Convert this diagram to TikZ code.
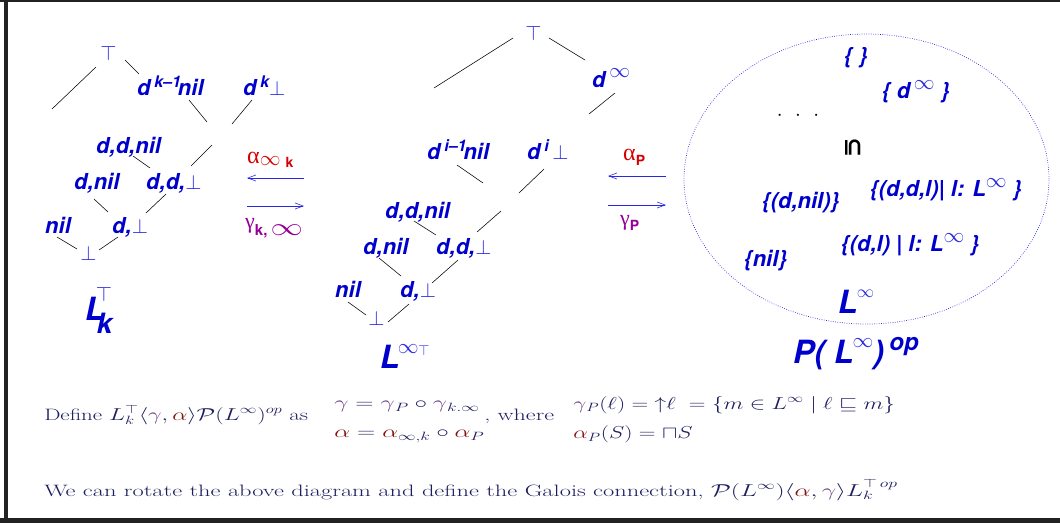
\documentclass[tikz,border=0pt]{standalone}
\usepackage{fontspec}
\usetikzlibrary{arrows.meta,shapes.geometric}
\newfontfamily\hv{TeX Gyre Heros}
\newfontfamily\tms{Liberation Serif}
\newfontfamily\djv{DejaVu Sans}
\definecolor{lblue}{RGB}{0,0,205}
\definecolor{sblue}{RGB}{40,40,225}
\definecolor{ared}{RGB}{215,0,0}
\definecolor{gpur}{RGB}{150,0,150}
\definecolor{navy}{RGB}{30,30,95}
\definecolor{gcol}{RGB}{100,50,130}
\definecolor{acol}{RGB}{130,20,20}
\definecolor{framec}{RGB}{34,34,34}
\newcommand\lblf{\hv\bfseries\itshape\fontsize{22}{22}\selectfont}
\newcommand\supx[1]{\raisebox{8pt}{\fontsize{16}{16}\selectfont #1}}
\newcommand\infx[1][9pt]{\raisebox{#1}{\textcolor{sblue}{$\infty$}}}
\newcommand\cg{\textcolor{gcol}{\gamma}}
\newcommand\ca{\textcolor{acol}{\alpha}}
\newcommand\sbot{\textcolor{sblue}{$\bot$}}
\renewcommand\arraystretch{1.33}
\tikzset{
 lab/.style={text=lblue, font=\lblf, inner sep=0pt, anchor=base west},
 big/.style={text=lblue, font=\hv\bfseries\itshape\fontsize{32}{32}\selectfont, inner sep=0pt, anchor=base west},
 sym/.style={text=sblue, inner sep=0pt, font=\fontsize{22}{22}\selectfont},
 lnk/.style={black, line width=0.55pt},
 garrow/.style={sblue, line width=0.6pt, -{Straight Barb[length=8pt,width=6pt]}},
 txt/.style={text=navy, inner sep=0pt, anchor=base west, font=\fontsize{16.5}{22}\selectfont, xscale=1.46},
 glab/.style={inner sep=0pt, anchor=base west},
}
\begin{document}
\begin{tikzpicture}[x=1pt,y=-1pt]
\useasboundingbox (0,0) rectangle (1060,523);
\fill[framec] (0,0) rectangle (1060,1.5);
\fill[framec] (4,0) rectangle (7.5,523);
\fill[framec] (0,518) rectangle (1060,523);

% ---------- left lattice L_k^T
\node[sym] (ltop) at (108.5,53.5) {$\top$};
\node[lab] (ldk1) at (137,95) {d\,\supx{k–1}\kern-3pt nil};
\node[lab] (ldkb) at (243,95) {d\,\supx{k}\sbot};
\node[lab] (lddnil) at (96,153) {d,d,nil};
\node[lab] (ldnil) at (74,189) {d,nil};
\node[lab] (lddb) at (146,189) {d,d,\sbot};
\node[lab] (lnil) at (45,233) {nil};
\node[lab] (ldb) at (112,233) {d,\sbot};
\node[sym] (lbot) at (88.5,253.5) {$\bot$};
\node[big] (lk) at (85,320) {L\kern-9pt\rlap{\raisebox{19pt}{\fontsize{20}{20}\selectfont\textcolor{sblue}{$\top$}}}\kern1pt\raisebox{-13pt}{\fontsize{28}{28}\selectfont k}};

\draw[lnk] (96,67) coordinate (l1a) -- (52,109) coordinate (l1b);
\draw[lnk] (125,60) coordinate (l2a) -- (139,74) coordinate (l2b);
\draw[lnk] (189,100) coordinate (l3a) -- (207,122) coordinate (l3b);
\draw[lnk] (252,100) coordinate (l4a) -- (232,124) coordinate (l4b);
\draw[lnk] (212,145) coordinate (l5a) -- (191,166) coordinate (l5b);
\draw[lnk] (133,156) coordinate (l6a) -- (150,168) coordinate (l6b);
\draw[lnk] (94,199) coordinate (l7a) -- (108,212) coordinate (l7b);
\draw[lnk] (166,194) coordinate (l8a) -- (146,213) coordinate (l8b);
\draw[lnk] (57,237) coordinate (l9a) -- (77,249) coordinate (l9b);
\draw[lnk] (118,237) coordinate (l10a) -- (99,250) coordinate (l10b);

% ---------- middle lattice L^inf T
\node[sym] (mtop) at (533.5,33.5) {$\top$};
\node[lab] (mdinf) at (592,87) {d\,\infx[10pt]};
\node[lab] (mdi1) at (427,159) {d\,\supx{i–1}\kern-3pt nil};
\node[lab] (mdib) at (527,159) {d\,\supx{i}\,\sbot};
\node[lab] (mddnil) at (385,218) {d,d,nil};
\node[lab] (mdnil) at (363,254) {d,nil};
\node[lab] (mddb) at (436,254) {d,d,\sbot};
\node[lab] (mnil) at (335,297) {nil};
\node[lab] (mdb) at (400,297) {d,\sbot};
\node[sym] (mbot) at (376.5,318.5) {$\bot$};
\node[big] (minf) at (380,368) {L\kern-2pt\raisebox{15pt}{\fontsize{20}{20}\selectfont\textcolor{sblue}{$\infty$}}\raisebox{13pt}{\fontsize{15}{15}\selectfont\textcolor{sblue}{$\top$}}};

\draw[lnk] (513,38) coordinate (m1a) -- (434,88) coordinate (m1b);
\draw[lnk] (549,38) coordinate (m2a) -- (585,60) coordinate (m2b);
\draw[lnk] (615,93) coordinate (m3a) -- (589,114) coordinate (m3b);
\draw[lnk] (457,165) coordinate (m4a) -- (483,183) coordinate (m4b);
\draw[lnk] (544,169) coordinate (m5a) -- (519,193) coordinate (m5b);
\draw[lnk] (501,211) coordinate (m6a) -- (477,232) coordinate (m6b);
\draw[lnk] (414,221) coordinate (m7a) -- (436,235) coordinate (m7b);
\draw[lnk] (379,258) coordinate (m8a) -- (401,276) coordinate (m8b);
\draw[lnk] (458,260) coordinate (m9a) -- (432,283) coordinate (m9b);
\draw[lnk] (348,302) coordinate (m10a) -- (366,315) coordinate (m10b);
\draw[lnk] (409,304) coordinate (m11a) -- (388,322) coordinate (m11b);

% ---------- arrows between lattices
\coordinate (a1r) at (304,178); \coordinate (a1l) at (247,178);
\coordinate (g1l) at (247,206); \coordinate (g1r) at (304,206);
\draw[garrow] (a1r) -- (a1l);
\draw[garrow] (g1l) -- (g1r);
\node[glab, text=ared] (alk) at (247,163) {\tms\fontsize{24}{24}\selectfont α\raisebox{-2pt}{\fontsize{21}{21}\selectfont$\infty$}\hspace{5pt}\raisebox{-4pt}{\hv\bfseries\fontsize{14}{14}\selectfont k}};
\node[glab, text=gpur] (gkl) at (245,228) {\tms\fontsize{22}{22}\selectfont γ\raisebox{-7pt}{\hv\bfseries\fontsize{15}{15}\selectfont k,}\hspace{3pt}\raisebox{-7pt}{\scalebox{1.3}[1]{\fontsize{23}{23}\selectfont$\infty$}}};

\coordinate (a2r) at (666,176); \coordinate (a2l) at (608,176);
\coordinate (g2l) at (608,205); \coordinate (g2r) at (666,205);
\draw[garrow] (a2r) -- (a2l);
\draw[garrow] (g2l) -- (g2r);
\node[glab, text=ared] (ap) at (623,160) {\tms\fontsize{24}{24}\selectfont α\raisebox{-5pt}{\hv\bfseries\fontsize{14}{14}\selectfont P}};
\node[glab, text=gpur] (gp) at (620,225) {\tms\fontsize{22}{22}\selectfont γ\raisebox{-5pt}{\hv\bfseries\fontsize{14}{14}\selectfont P}};

% ---------- powerset ellipse
\node[draw=sblue, line width=0.7pt, dash pattern=on 0.7pt off 1.6pt, ellipse, inner sep=0pt, minimum width=365pt, minimum height=290pt] (pset) at (866.5,179) {};
\node[lab] (e0) at (844,63) {\{ \}};
\node[lab] (e1) at (882,98) {\{ d\,\infx[9pt] \}};
\node[inner sep=0pt, font=\fontsize{22}{22}\selectfont] (dots) at (798,116) {$\cdot$\hspace{12.5pt}$\cdot$\hspace{12.5pt}$\cdot$};
\node[rotate=-90, inner sep=0pt, font=\djv\bfseries\fontsize{24}{24}\selectfont] (incl) at (853.5,148) {⊆};
\node[lab] (e2) at (870,196) {\{(d,d,l)| l: L\infx[9pt] \}};
\node[lab] (e3) at (762,208) {\{(d,nil)\}};
\node[lab] (e4) at (841,251) {\{(d,l) | l: L\infx[9pt] \}};
\node[lab] (e5) at (744,266) {\{nil\}};
\node[big] (einf) at (838,313) {L\kern-1pt\raisebox{16pt}{\fontsize{18}{18}\selectfont\textcolor{sblue}{$\infty$}}};
\node[big] (pl) at (793,363) {P( L\kern-1pt\raisebox{16pt}{\fontsize{20}{20}\selectfont\textcolor{sblue}{$\infty$}})\,\raisebox{12.5pt}{\fontsize{24}{24}\selectfont op}};

% ---------- text
\node[txt, xscale=1.39/1.46] (def) at (44,420) {Define $L_k^\top\langle\cg,\ca\rangle\mathcal{P}(L^\infty)^{op}$ as};
\node[txt, anchor=west] (st1) at (334,417.5) {$\begin{array}{@{}l@{}}\cg=\cg_P\circ\cg_{k.\infty}\\ \ca=\ca_{\infty,k}\circ\ca_P\end{array}$};
\node[txt] (wh) at (484,420) {, where};
\node[txt, anchor=west, xscale=1.34/1.46] (st2) at (573,418) {$\begin{array}{@{}l@{}}\cg_P(\ell)={\uparrow}\ell\ =\{m\in L^\infty\mid \ell\sqsubseteq m\}\\ \ca_P(S)=\sqcap S\end{array}$};
\node[txt, xscale=1.48/1.46] (rot) at (44,496) {We can rotate the above diagram and define the Galois connection, $\mathcal{P}(L^\infty)\langle\ca,\cg\rangle L_k^{\top\,op}$};
\end{tikzpicture}
\end{document}
